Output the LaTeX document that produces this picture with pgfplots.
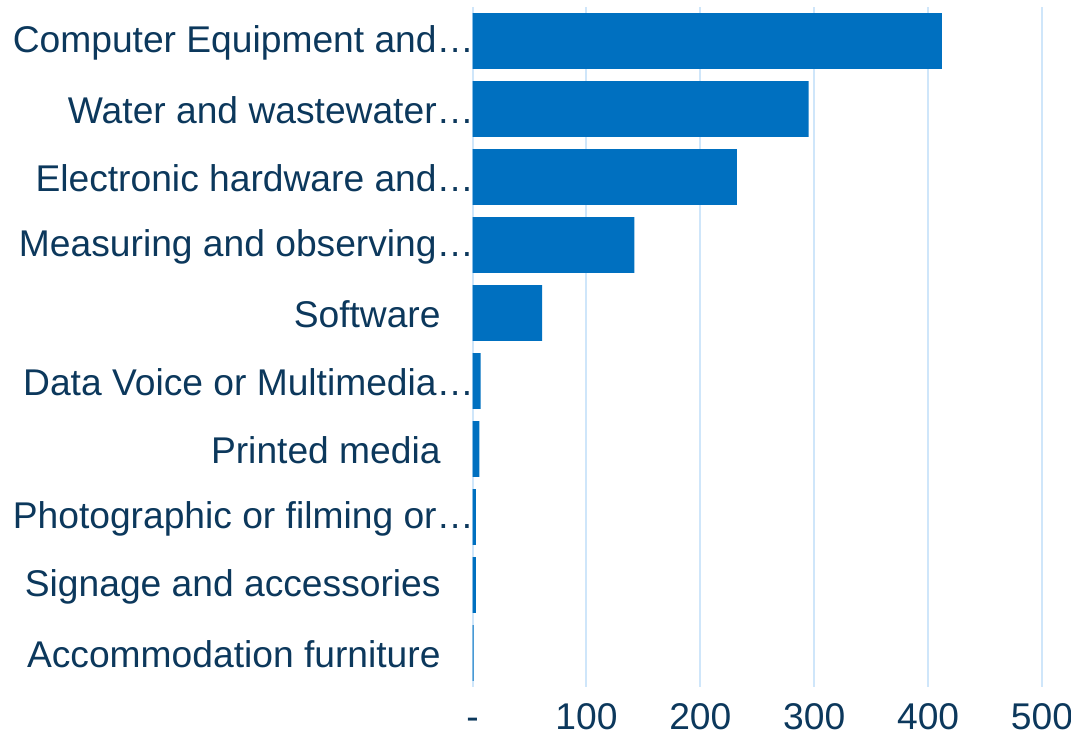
\documentclass[border=0pt]{standalone}
\usepackage{fontspec}
\setmainfont{Liberation Sans}
\usepackage{pgfplots}
\pgfplotsset{compat=1.18}
\definecolor{barblue}{HTML}{0070C0}
\definecolor{gridblue}{HTML}{CFE6FA}
\definecolor{txt}{HTML}{0C385C}
\begin{document}
\begin{tikzpicture}
\begin{axis}[
 name=ax,
 xbar,
 scale only axis,
 width=427.1pt, height=510pt,
 xmin=0, xmax=500,
 ymin=-0.5, ymax=9.5,
 y dir=reverse,
 bar width=0.82,
 axis line style={draw=none},
 tick style={draw=none},
 xtick={0,100,200,300,400,500},
 xticklabels={-,100,200,300,400,500},
 ytick={0,1,2,3,4,5,6,7,8,9},
 yticklabels={Computer Equipment and…,Water and wastewater…,Electronic hardware and…,Measuring and observing…,Software\hspace*{25pt},Data Voice or Multimedia…,Printed media\hspace*{25pt},Photographic or filming or…,Signage and accessories\hspace*{25pt},Accommodation furniture\hspace*{25pt}},
 xmajorgrids,
 major grid style={gridblue, line width=1.5pt},
 tick label style={text=txt, font=\fontsize{27.9}{32}\selectfont},
 yticklabel style={anchor=east, inner sep=0pt, xshift=5.5pt, yshift=-1.2pt},
 xticklabel style={anchor=base, inner sep=0pt, yshift=-31.5pt},
]
\addplot[fill=barblue, draw=none] coordinates {(412,0) (295,1) (232,2) (142,3) (61,4) (7,5) (6,6) (3,7) (3,8) (1,9)};
\end{axis}
\pgfresetboundingbox
\path[use as bounding box] ([shift={(-354.4pt,-36pt)}]ax.south west) rectangle ([shift={(21.75pt,5.25pt)}]ax.north east);
\end{tikzpicture}
\end{document}
